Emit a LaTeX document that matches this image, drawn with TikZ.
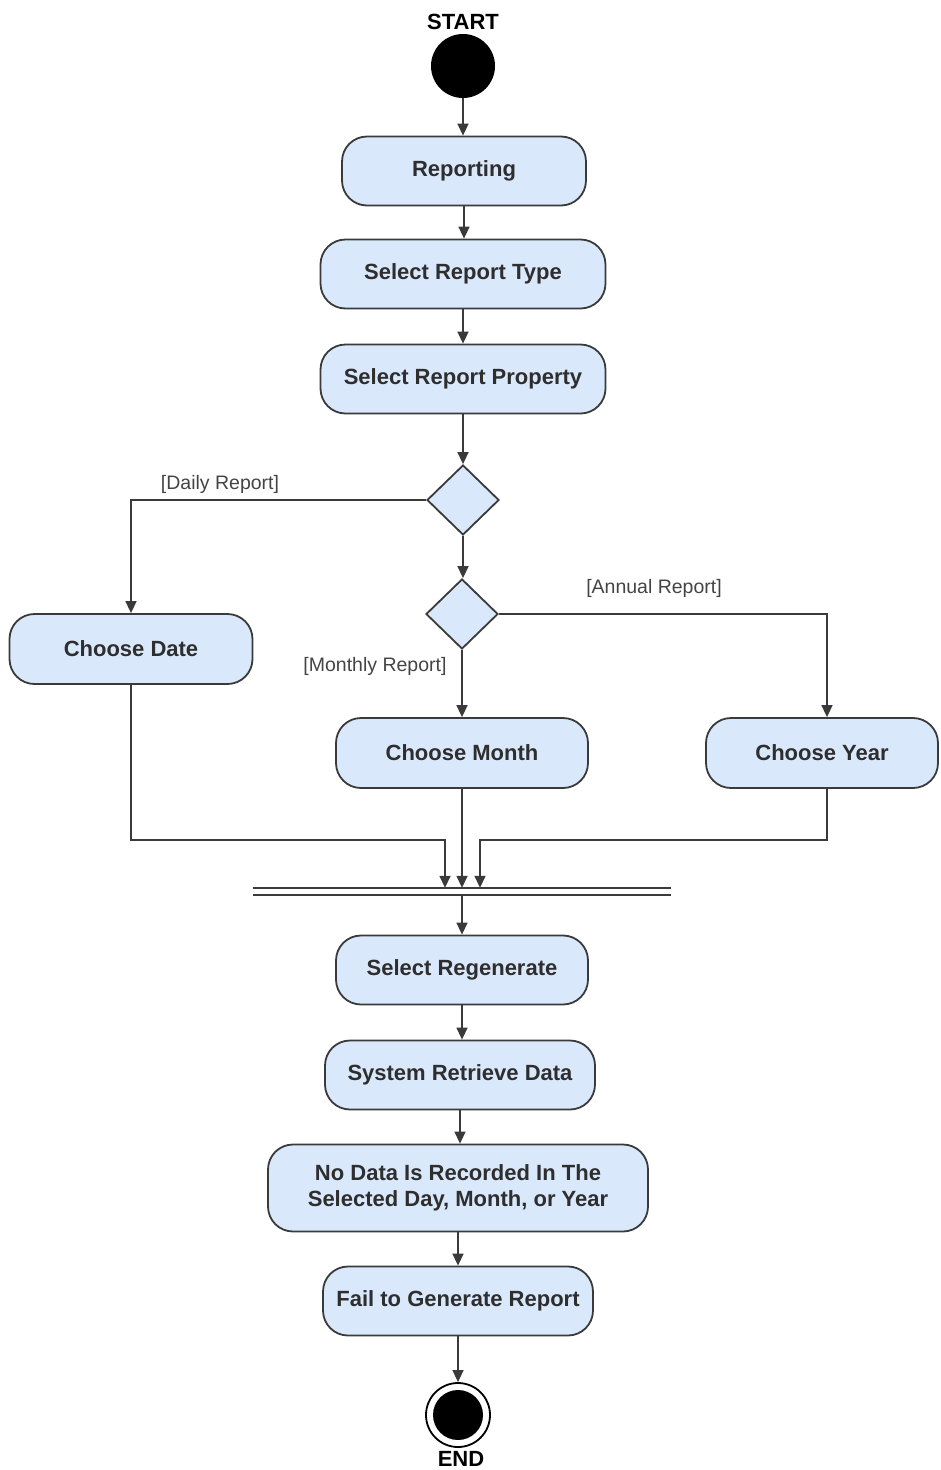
\documentclass[tikz,border=0pt]{standalone}
\usepackage{fontspec}
\setmainfont{Liberation Sans}
\usetikzlibrary{arrows.meta,shapes.geometric}
\definecolor{actfill}{HTML}{DAE8FC}
\definecolor{actline}{HTML}{3A3A3A}
\definecolor{acttext}{HTML}{2E2E2E}
\definecolor{guardtext}{HTML}{444444}
\tikzset{
  activity/.style={draw=actline, line width=1.8pt, fill=actfill, rounded corners=25pt,
    inner sep=0pt, minimum height=69pt, align=center, text=acttext,
    font=\fontsize{22}{26}\selectfont\bfseries},
  decision/.style={draw=actline, line width=1.8pt, fill=actfill, diamond, aspect=1,
    inner sep=0pt, minimum width=72pt, minimum height=70pt},
  flow/.style={draw=actline, line width=1.5pt, -{Triangle[length=12pt,width=11pt]}},
  guard/.style={text=guardtext, font=\fontsize{19.5}{22}\selectfont, inner sep=0pt},
  caption/.style={font=\fontsize{22}{24}\selectfont\bfseries, inner sep=0pt},
}
\begin{document}
\begin{tikzpicture}[x=1pt, y=-1pt]
  \useasboundingbox (0,0) rectangle (940,1470);

  % initial node
  \node[caption] (starttxt) at (463,22) {START};
  \node[circle, fill=black, minimum size=64pt, inner sep=0pt] (start) at (463,66) {};

  % main sequence
  \node[activity, minimum width=244pt] (rep) at (464,171) {Reporting};
  \node[activity, minimum width=285pt] (srt) at (463,274) {Select Report Type};
  \node[activity, minimum width=285pt] (srp) at (463,379) {Select Report Property};

  % decisions
  \node[decision] (d1) at (463,500) {};
  \node[decision] (d2) at (462,614) {};

  % branches
  \node[activity, minimum width=243pt, minimum height=70pt] (date) at (131,649) {Choose Date};
  \node[activity, minimum width=252pt, minimum height=70pt] (month) at (462,753) {Choose Month};
  \node[activity, minimum width=232pt, minimum height=70pt] (year) at (822,753) {Choose Year};

  % join bar
  \node[minimum width=418pt, minimum height=7pt, inner sep=0pt] (bar) at (462,891.5) {};
  \draw[actline, line width=1.5pt] (bar.north west) -- (bar.north east);
  \draw[actline, line width=1.5pt] (bar.south west) -- (bar.south east);

  % closing sequence
  \node[activity, minimum width=252pt] (regen) at (462,970) {Select Regenerate};
  \node[activity, minimum width=270pt] (sys) at (460,1075) {System Retrieve Data};
  \node[activity, minimum width=380pt, minimum height=87pt] (nodata) at (458,1188)
    {No Data Is Recorded In The\\Selected Day, Month, or Year};
  \node[activity, minimum width=270pt] (fail) at (458,1301) {Fail to Generate Report};

  % final node
  \node[circle, draw=black, line width=1.8pt, fill=white, minimum size=64pt, inner sep=0pt] (endc) at (458,1415) {};
  \node[circle, fill=black, minimum size=50pt, inner sep=0pt] (endin) at (458,1415) {};
  \node[caption] (endtxt) at (461,1459) {END};

  \coordinate (mergeY) at (0,840);

  % connectors
  \draw[flow] (start.south) -- (start.south |- rep.north);
  \draw[flow] (rep.south) -- (rep.south |- srt.north);
  \draw[flow] (srt.south) -- (srp.north);
  \draw[flow] (srp.south) -- (d1.north);
  \draw[flow] (d1.west) -| (date.north);
  \draw[flow] (d1.south) -- (d1.south |- d2.north);
  \draw[flow] (d2.east) -| ([xshift=5pt]year.north);
  \draw[flow] (d2.south) -- (month.north);
  \draw[flow] (date.south) -- (date.south |- mergeY) -| ([xshift=-17pt]bar.north);
  \draw[flow] (month.south) -- (bar.north);
  \draw[flow] ([xshift=5pt]year.south) -- ([xshift=5pt]year.south |- mergeY) -| ([xshift=18pt]bar.north);
  \draw[flow] (bar.south) -- (regen.north);
  \draw[flow] (regen.south) -- (regen.south |- sys.north);
  \draw[flow] (sys.south) -- (sys.south |- nodata.north);
  \draw[flow] (nodata.south) -- (fail.north);
  \draw[flow] (fail.south) -- (endc.north);

  % guard labels
  \node[guard] (gdaily) at (220,484) {[Daily Report]};
  \node[guard] (gannual) at (654,588) {[Annual Report]};
  \node[guard] (gmonthly) at (375,666) {[Monthly Report]};
\end{tikzpicture}
\end{document}
